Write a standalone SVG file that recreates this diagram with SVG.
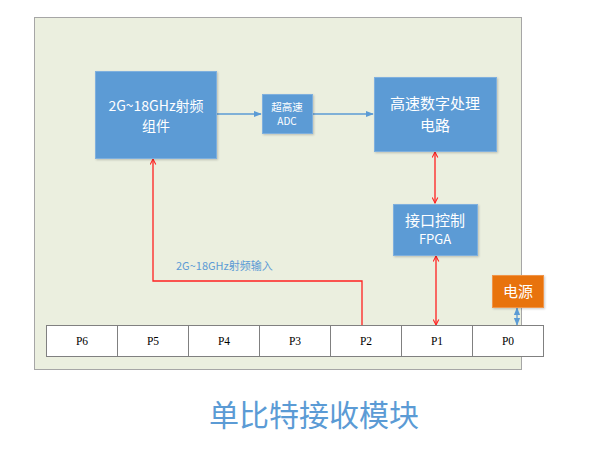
<svg xmlns="http://www.w3.org/2000/svg" width="590" height="456" viewBox="0 0 590 456">
<style>
.box{fill:#5B9BD5;stroke:#7FB0DE;stroke-width:1}
.wt{fill:#fff;font-family:"Noto Sans CJK SC","Noto Sans",sans-serif;text-anchor:middle}
.port{fill:#fff;stroke:#808080;stroke-width:1}
.pt{fill:#000;font-family:"Liberation Serif",serif;font-size:11.5px;text-anchor:middle}
.red{stroke:#FF2020;stroke-width:1.3;fill:none}
.blue{stroke:#5B9BD5;stroke-width:1.3;fill:none}
</style>
<defs>
<marker id="ra" viewBox="0 0 10 10" refX="9" refY="5" markerWidth="7" markerHeight="7" orient="auto-start-reverse" markerUnits="userSpaceOnUse">
<path d="M1,1 L9,5 L1,9" fill="none" stroke="#FF2020" stroke-width="1.5"/>
</marker>
<marker id="ba" viewBox="0 0 10 10" refX="9" refY="5" markerWidth="8" markerHeight="8" orient="auto-start-reverse" markerUnits="userSpaceOnUse">
<path d="M0,1 L10,5 L0,9 Z" fill="#5B9BD5"/>
</marker>
<filter id="sh" x="-10%" y="-10%" width="130%" height="130%">
<feDropShadow dx="1" dy="1" stdDeviation="1" flood-color="#000" flood-opacity="0.2"/>
</filter>
</defs>
<rect width="590" height="456" fill="#fff"/>
<rect id="panel" x="34.5" y="17.5" width="487" height="352" fill="#EBEFDF" stroke="#A6A6A6" stroke-width="1"/>

<g id="connectors">
<line class="blue" x1="216" y1="114" x2="261" y2="114" marker-end="url(#ba)"/>
<line class="blue" x1="312" y1="114" x2="373" y2="114" marker-end="url(#ba)"/>
<line class="red" x1="435" y1="152" x2="435" y2="203" marker-start="url(#ra)" marker-end="url(#ra)"/>
<line class="red" x1="436" y1="256" x2="436" y2="325" marker-start="url(#ra)" marker-end="url(#ra)"/>
<line class="blue" x1="517" y1="308" x2="517" y2="325" stroke-width="1" marker-start="url(#ba)" marker-end="url(#ba)"/>
<polyline class="red" points="362,325 362,281 153,281 153,159" marker-end="url(#ra)"/>
<text x="176" y="270" font-family="Noto Sans CJK SC,Noto Sans,sans-serif" font-size="11" fill="#5B9BD5">2G~18GHz射频输入</text>
</g>

<g id="rf">
<rect class="box" x="95.5" y="71.5" width="121" height="87" filter="url(#sh)"/>
<text class="wt" x="156" y="111" font-size="14">2G~18GHz射频</text>
<text class="wt" x="156" y="131" font-size="14">组件</text>
</g>
<g id="adc">
<rect class="box" x="262.5" y="94.5" width="50" height="39" filter="url(#sh)"/>
<text class="wt" x="287" y="111" font-size="10.5">超高速</text>
<text class="wt" x="287" y="125" font-size="10">ADC</text>
</g>
<g id="dsp">
<rect class="box" x="374.5" y="77.5" width="122" height="74" filter="url(#sh)"/>
<text class="wt" x="435" y="109" font-size="15">高速数字处理</text>
<text class="wt" x="435" y="131" font-size="15">电路</text>
</g>
<g id="fpga">
<rect class="box" x="393.5" y="204.5" width="84" height="51" filter="url(#sh)"/>
<text class="wt" x="435" y="226" font-size="15">接口控制</text>
<text class="wt" x="435" y="244" font-size="13">FPGA</text>
</g>
<g id="power">
<rect x="492.5" y="275.5" width="51" height="32" fill="#E8730E" stroke="#F0954A" stroke-width="1" filter="url(#sh)"/>
<text class="wt" x="518" y="297" font-size="15">电源</text>
</g>

<g id="ports">
<rect class="port" x="46.5" y="325.5" width="71" height="31"/>
<rect class="port" x="117.5" y="325.5" width="71" height="31"/>
<rect class="port" x="188.5" y="325.5" width="71" height="31"/>
<rect class="port" x="259.5" y="325.5" width="71" height="31"/>
<rect class="port" x="330.5" y="325.5" width="71" height="31"/>
<rect class="port" x="401.5" y="325.5" width="71" height="31"/>
<rect class="port" x="472.5" y="325.5" width="71" height="31"/>
<text class="pt" x="82" y="345">P6</text>
<text class="pt" x="153" y="345">P5</text>
<text class="pt" x="224" y="345">P4</text>
<text class="pt" x="295" y="345">P3</text>
<text class="pt" x="366" y="345">P2</text>
<text class="pt" x="437" y="345">P1</text>
<text class="pt" x="508" y="345">P0</text>
</g>

<text id="title" x="314" y="426" font-family="Noto Sans CJK SC,sans-serif" font-size="30" fill="#5B9BD5" text-anchor="middle">单比特接收模块</text>
</svg>
